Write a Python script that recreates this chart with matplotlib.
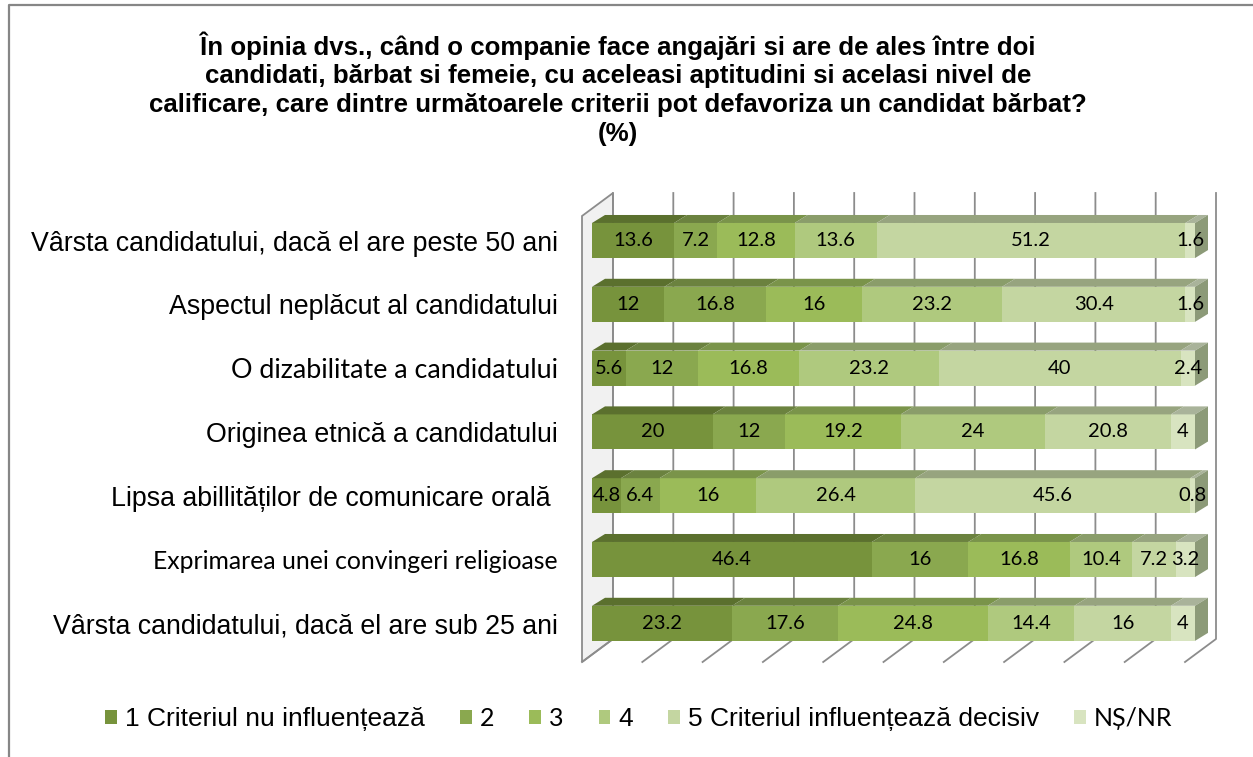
import matplotlib
matplotlib.use("Agg")
import matplotlib.pyplot as plt
from matplotlib.patches import Polygon, Patch
from matplotlib.lines import Line2D
from matplotlib import font_manager

categories = [
    "Vârsta candidatului, dacă el are peste 50 ani",
    "Aspectul neplăcut al candidatului",
    "O dizabilitate a candidatului",
    "Originea etnică a candidatului",
    "Lipsa abillităților de comunicare orală ",
    "Exprimarea unei convingeri religioase",
    "Vârsta candidatului, dacă el are sub 25 ani",
]
series_names = ["1 Criteriul nu influențează", "2", "3", "4",
                "5 Criteriul influențează decisiv", "NȘ/NR"]
s1 = [13.6, 12, 5.6, 20, 4.8, 46.4, 23.2]
s2 = [7.2, 16.8, 12, 12, 6.4, 16, 17.6]
s3 = [12.8, 16, 16.8, 19.2, 16, 16.8, 24.8]
s4 = [13.6, 23.2, 23.2, 24, 26.4, 10.4, 14.4]
s5 = [51.2, 30.4, 40, 20.8, 45.6, 7.2, 16]
s6 = [1.6, 1.6, 2.4, 4, 0.8, 3.2, 4]
series = [s1, s2, s3, s4, s5, s6]

front = ['#77933C', '#8AA84F', '#9BBB59', '#AFC97E', '#C4D6A1', '#D8E4C0']
top = ['#5B702E', '#6B823F', '#7A944A', '#8A9D6A', '#97A47F', '#A9B39A']
side = '#8C9A78'
grid = '#8C8C8C'

names = {f.name for f in font_manager.fontManager.ttflist}
title_font = 'Liberation Sans Narrow' if 'Liberation Sans Narrow' in names else 'Liberation Sans'
arial = 'Liberation Sans'
calibri = 'Lato'

W, H = 1253, 757
fig = plt.figure(figsize=(W / 100, H / 100), dpi=100)

# front plane of the bars, in pixels
x0_px, x1_px = 592, 1195
top_px, bot_px = 193, 662
ax = fig.add_axes([x0_px / W, 1 - bot_px / H, (x1_px - x0_px) / W, (bot_px - top_px) / H])
pxx = (x1_px - x0_px) / 100.0
pxy = 63.8
y_top = -0.745
y_bot = y_top + (bot_px - top_px) / pxy
ax.set_xlim(0, 100)
ax.set_ylim(y_bot, y_top)
for s in ax.spines.values():
    s.set_visible(False)
ax.set_xticks([])
ax.patch.set_alpha(0)

# depth offsets (bar and walls)
bdx, bdy = 13 / pxx, -8 / pxy
wdx, wdy = 31 / pxx, -23 / pxy
xw0 = -10 / pxx

# left wall
wall = Polygon([(xw0, y_bot), (xw0, y_top - wdy), (xw0 + wdx, y_top), (xw0 + wdx, y_bot + wdy)],
               closed=True, facecolor='#F1F1F1', edgecolor=grid, lw=1.3, clip_on=False, zorder=1)
ax.add_patch(wall)

# gridlines on back wall + floor ticks
for v in range(0, 101, 10):
    xb = xw0 + wdx + v
    ax.add_line(Line2D([xb, xb, xb - wdx], [y_top, y_bot + wdy, y_bot],
                       color=grid, lw=1.3, clip_on=False, zorder=1))

# bars
h = 0.55
ypos = list(range(len(categories)))
lefts = [0.0] * len(categories)
for k, vals in enumerate(series):
    bars = ax.barh(ypos, vals, left=lefts, height=h, color=front[k], edgecolor='none', zorder=3)
    for i, v in enumerate(vals):
        l = lefts[i]
        yt = i - h / 2
        ax.add_patch(Polygon([(l, yt), (l + v, yt), (l + v + bdx, yt + bdy), (l + bdx, yt + bdy)],
                             closed=True, facecolor=top[k], edgecolor='none', clip_on=False, zorder=3))
    ax.bar_label(bars, labels=[f"{v:g}" for v in vals], label_type='center',
                 fontsize=14.5, family=calibri, color='black', zorder=5)
    lefts = [a + b for a, b in zip(lefts, vals)]

for i in ypos:
    yt = i - h / 2
    ax.add_patch(Polygon([(lefts[i], yt), (lefts[i] + bdx, yt + bdy),
                          (lefts[i] + bdx, yt + h + bdy), (lefts[i], yt + h)],
                         closed=True, facecolor=side, edgecolor='none', clip_on=False, zorder=3))

ax.set_yticks(ypos, categories)
ax.tick_params(axis='y', length=0, pad=24.5)
label_sizes = {2: 19.4, 5: 17.8}
for i, lab in enumerate(ax.get_yticklabels()):
    if i in label_sizes:
        lab.set_fontfamily(calibri)
        lab.set_fontsize(label_sizes[i])
    else:
        lab.set_fontfamily(arial)
        lab.set_fontsize(19.3)

# title
fig.text(618 / W, 1 - 31 / H,
         "În opinia dvs., când o companie face angajări si are de ales între doi\n"
         "candidati, bărbat si femeie, cu aceleasi aptitudini si acelasi nivel de\n"
         "calificare, care dintre următoarele criterii pot defavoriza un candidat bărbat?\n"
         "(%)",
         ha='center', va='top', fontsize=18.6, fontweight='bold', family=title_font,
         linespacing=1.25)

# legend
handles = [Patch(facecolor=c, edgecolor='none') for c in front]
leg = fig.legend(handles, series_names, ncol=6, loc='center left',
                 bbox_to_anchor=(105 / W, 1 - 719 / H), frameon=False,
                 prop={'family': arial, 'size': 19},
                 handlelength=0.45, handleheight=0.45, handletextpad=0.3,
                 columnspacing=1.33, borderaxespad=0, borderpad=0)
for i, t in enumerate(leg.get_texts()):
    if i in (1, 2, 5):
        t.set_fontfamily(calibri)
        t.set_fontsize(18)

# chart border
fig.add_artist(Line2D([9 / W, 9 / W, 1], [0, 1 - 5 / H, 1 - 5 / H],
                      transform=fig.transFigure, color='#868686', lw=1.6))

fig.savefig("out.png", dpi=100)
